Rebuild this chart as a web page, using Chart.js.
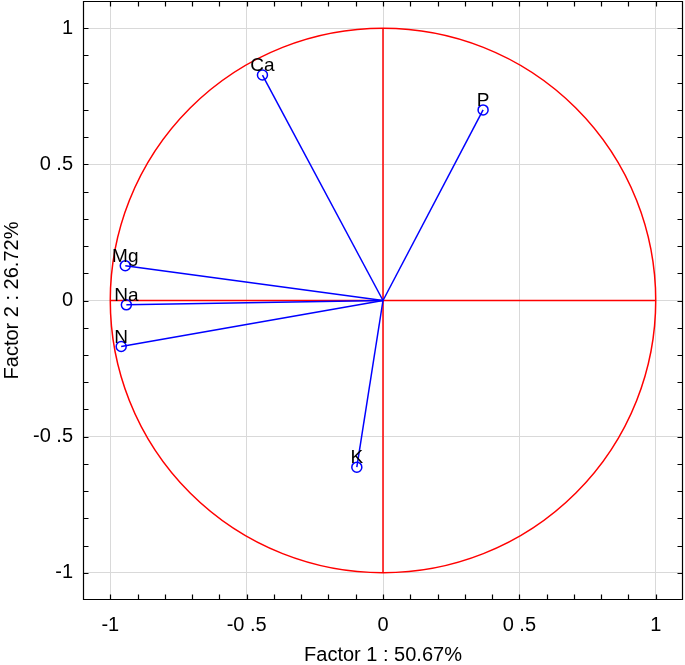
<!DOCTYPE html>
<html><head><meta charset="utf-8">
<script src="https://cdn.jsdelivr.net/npm/chart.js@4"></script>
<style>html,body{margin:0;padding:0;background:#fff}</style>
</head><body>
<canvas id="c" width="685" height="665"></canvas>
<script>
// ---- data ----
const variables = ['Ca', 'P', 'Mg', 'Na', 'N', 'K'];
const factor1 = [-0.442, 0.367, -0.945, -0.941, -0.960, -0.096];
const factor2 = [0.828, 0.700, 0.128, -0.016, -0.169, -0.612];
const tickValues = [-1, -0.5, 0, 0.5, 1];
const tickLabels = ['-1', '-0 .5', '0', '0 .5', '1'];
const xTitle = 'Factor 1 : 50.67%';
const yTitle = 'Factor 2 : 26.72%';

const FONT = '"Liberation Sans", Arial, sans-serif';
const BLUE = '#0000ff';
const RED = '#ff0000';

function majorLabel(v) {
  const i = tickValues.findIndex(t => Math.abs(t - v) < 1e-6);
  return i >= 0 ? tickLabels[i] : '';
}
function gridColor(ctx) {
  const v = ctx.tick ? ctx.tick.value : null;
  return (v !== null && majorLabel(v) !== '') ? '#d9d9d9' : 'rgba(0,0,0,0)';
}

const datasets = [
  { data: [{x: -1, y: 0}, {x: 1, y: 0}], showLine: true, borderColor: RED, borderWidth: 1.5, pointRadius: 0, order: 3 },
  { data: [{x: 0, y: -1}, {x: 0, y: 1}], showLine: true, borderColor: RED, borderWidth: 1.5, pointRadius: 0, order: 3 }
];
variables.forEach((name, i) => {
  datasets.push({
    label: name,
    isLoading: true,
    data: [{x: 0, y: 0}, {x: factor1[i], y: factor2[i]}],
    showLine: true,
    borderColor: BLUE,
    borderWidth: 1.5,
    pointRadius: c => c.dataIndex === 1 ? 5 : 0,
    pointBorderColor: BLUE,
    pointBorderWidth: 1.5,
    pointBackgroundColor: 'rgba(0,0,0,0)',
    order: 1
  });
});

const circlePlugin = {
  id: 'unitCircle',
  beforeDatasetsDraw(chart) {
    const {ctx, scales: {x, y}} = chart;
    const cx = x.getPixelForValue(0), cy = y.getPixelForValue(0);
    const rx = x.getPixelForValue(1) - cx, ry = cy - y.getPixelForValue(1);
    ctx.save();
    ctx.strokeStyle = RED;
    ctx.lineWidth = 1.5;
    ctx.beginPath();
    ctx.ellipse(cx, cy, rx, ry, 0, 0, Math.PI * 2);
    ctx.stroke();
    ctx.restore();
  }
};

const labelPlugin = {
  id: 'pointLabels',
  afterDatasetsDraw(chart) {
    const ctx = chart.ctx;
    ctx.save();
    ctx.fillStyle = '#000';
    ctx.font = '19px ' + FONT;
    ctx.textAlign = 'center';
    ctx.textBaseline = 'alphabetic';
    chart.data.datasets.forEach((ds, i) => {
      if (!ds.isLoading) return;
      const el = chart.getDatasetMeta(i).data[1];
      ctx.fillText(ds.label, el.x, el.y - 4);
    });
    ctx.restore();
  }
};

const framePlugin = {
  id: 'frame',
  afterDraw(chart) {
    const {ctx, chartArea: a, scales: {x, y}} = chart;
    ctx.save();
    ctx.strokeStyle = '#000';
    ctx.lineWidth = 1.2;
    const L = Math.round(a.left) + 0.5, R = Math.round(a.right) - 0.5;
    const T = Math.round(a.top) + 0.5, B = Math.round(a.bottom) - 0.5;
    ctx.beginPath();
    ctx.rect(L, T, R - L, B - T);
    const len = 5;
    x.ticks.forEach(t => {
      const px = Math.round(x.getPixelForValue(t.value)) + 0.5;
      if (px <= L + 1 || px >= R - 1) return;
      ctx.moveTo(px, B); ctx.lineTo(px, B - len);
      ctx.moveTo(px, T); ctx.lineTo(px, T + len);
    });
    y.ticks.forEach(t => {
      const py = Math.round(y.getPixelForValue(t.value)) + 0.5;
      if (py <= T + 1 || py >= B - 1) return;
      ctx.moveTo(L, py); ctx.lineTo(L + len, py);
      ctx.moveTo(R, py); ctx.lineTo(R - len, py);
    });
    ctx.stroke();
    ctx.restore();
  }
};

new Chart(document.getElementById('c'), {
  type: 'scatter',
  data: { datasets },
  plugins: [circlePlugin, labelPlugin, framePlugin],
  options: {
    responsive: false,
    animation: false,
    devicePixelRatio: 1,
    layout: { autoPadding: false, padding: { top: 1, right: 2, left: 0, bottom: 0 } },
    plugins: { legend: { display: false }, tooltip: { enabled: false } },
    scales: {
      x: {
        type: 'linear', min: -1.1, max: 1.1,
        afterFit: s => { s.height = 65; s.paddingLeft = 0; s.paddingRight = 0; },
        border: { display: false },
        grid: { color: gridColor, drawTicks: false, lineWidth: 1 },
        ticks: { stepSize: 0.1, autoSkip: false, maxRotation: 0, padding: 13,
                 color: '#000', font: { family: FONT, size: 20 },
                 callback: v => majorLabel(v) },
        title: { display: true, text: xTitle, color: '#000',
                 font: { family: FONT, size: 20, lineHeight: 1 }, padding: { top: 0, bottom: 0 } }
      },
      y: {
        type: 'linear', min: -1.1, max: 1.1,
        afterFit: s => { s.width = 83; s.paddingTop = 0; s.paddingBottom = 0; },
        border: { display: false },
        grid: { color: gridColor, drawTicks: false, lineWidth: 1 },
        ticks: { stepSize: 0.1, autoSkip: false, padding: 10,
                 color: '#000', font: { family: FONT, size: 20 },
                 callback: v => majorLabel(v) },
        title: { display: true, text: yTitle, color: '#000',
                 font: { family: FONT, size: 20, lineHeight: 1 }, padding: { top: 2, bottom: 0 } }
      }
    }
  }
});
</script>
</body></html>
